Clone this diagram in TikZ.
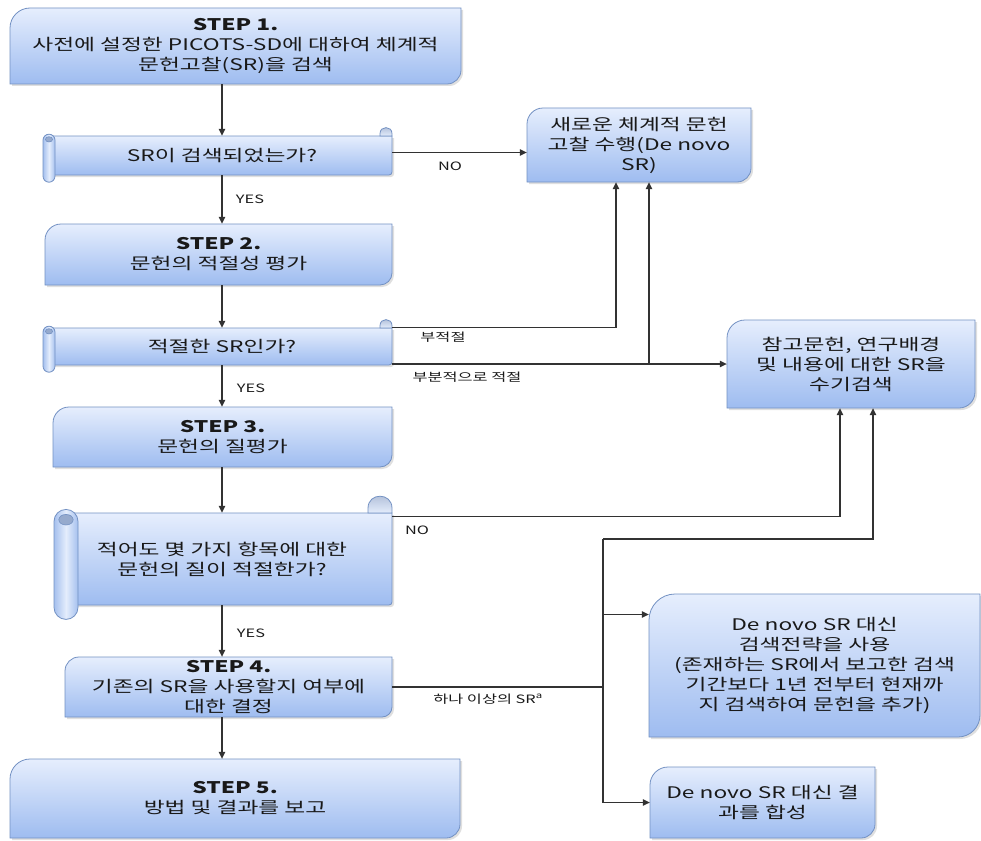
\documentclass[tikz,border=0pt]{standalone}
\usepackage{fontspec}
\setmainfont{Noto Sans CJK KR}[FakeStretch=1.42]
\usetikzlibrary{arrows.meta,shadows}

\definecolor{boxtop}{RGB}{230,238,253}
\definecolor{boxbot}{RGB}{158,188,240}
\definecolor{boxline}{RGB}{115,145,195}
\definecolor{wire}{RGB}{50,50,50}
\definecolor{inktext}{RGB}{25,25,25}
\definecolor{rollmid}{RGB}{228,237,252}
\definecolor{rollside}{RGB}{165,192,238}
\definecolor{rollhole}{RGB}{150,170,205}
\definecolor{curlfill}{RGB}{170,185,212}

\tikzset{
  boxpaint/.style={top color=boxtop, bottom color=boxbot, draw=boxline, line width=0.8pt,
    drop shadow={shadow xshift=2pt, shadow yshift=-2pt, opacity=0.25}},
  rollpaint/.style={left color=rollside, right color=rollside, middle color=rollmid,
    draw=boxline, line width=0.8pt},
  holepaint/.style={fill=rollhole, draw=boxline, line width=0.6pt},
  curlpaint/.style={top color=curlfill, bottom color=rollmid, draw=boxline, line width=0.8pt},
  boxtext/.style={font=\fontsize{16}{20}\selectfont, align=center, inner sep=0pt, text=inktext},
  lbl/.style={font=\fontsize{11.5}{13}\selectfont, inner sep=0pt, text=inktext},
  wireline/.style={draw=wire, line width=1.1pt},
  arr/.style={wireline, -{Triangle[length=7pt,width=6.5pt]}},
}

% process box: rounded top-left and bottom-right corners
% #1 name, #2 left, #3 top, #4 right, #5 bottom, #6 top-left radius, #7 bottom-right radius, #8 text
\newcommand\stepbox[8]{%
  \path[boxpaint] (#2,#3+#6) .. controls (#2,#3+0.45*#6) and (#2+0.45*#6,#3) .. (#2+#6,#3)
    -- (#4,#3) -- (#4,#5-#7) .. controls (#4,#5-0.45*#7) and (#4-0.45*#7,#5) .. (#4-#7,#5)
    -- (#2,#5) -- cycle;
  \node[boxtext, minimum width=#4-#2, minimum height=#5-#3] (#1) at ({(#2+#4)/2},{(#3+#5)/2}) {#8};
}

% scroll-shaped decision: #1 left, #2 top, #3 right, #4 bottom, #5 roll width
\newcommand\scrollpaint[5]{%
  \path[boxpaint] (#1+#5/2,#2) -- (#3,#2) -- (#3,#4-3) .. controls (#3,#4-1.3) and (#3-1.3,#4) .. (#3-3,#4)
    -- (#1+#5/2,#4) -- cycle;
  \path[curlpaint] (#3-#5,#2) -- (#3-#5,#2-0.2*#5)
    .. controls (#3-#5,#2-0.867*#5) and (#3,#2-0.867*#5) .. (#3,#2-0.2*#5) -- (#3,#2) -- cycle;
  \path[rollpaint, rounded corners=#5/2] (#1,#2-0.15*#5) rectangle (#1+#5,#4+0.6*#5);
  \path[holepaint] (#1+#5/2,#2+0.28*#5) ellipse [x radius=0.3*#5, y radius=0.22*#5];
}

\begin{document}
\begin{tikzpicture}[x=1pt,y=-1pt]
\useasboundingbox[fill=white] (0,0) rectangle (981,840);

% main column
\stepbox{s1}{10}{8}{461}{84}{20}{14}{\textbf{STEP 1.}\\사전에 설정한 PICOTS-SD에 대하여 체계적\\문헌고찰(SR)을 검색}

\scrollpaint{43}{136}{392}{175}{12}
\node[boxtext, minimum width=340, minimum height=39] (d1) at (222,155.5) {SR이 검색되었는가?};

\stepbox{s2}{45}{224}{392}{285}{16}{12}{\textbf{STEP 2.}\\문헌의 적절성 평가}

\scrollpaint{43}{328}{392}{365}{12}
\node[boxtext, minimum width=340, minimum height=37] (d2) at (222,346.5) {적절한 SR인가?};

\stepbox{s3}{53}{407}{392}{467}{16}{12}{\textbf{STEP 3.}\\문헌의 질평가}

\scrollpaint{54}{513}{392}{605}{24}
\node[boxtext, minimum width=340, minimum height=92] (d3) at (222,559) {적어도 몇 가지 항목에 대한\\문헌의 질이 적절한가?};

\stepbox{s4}{65}{657}{392}{717}{14}{10}{\textbf{STEP 4.}\\기존의 SR을 사용할지 여부에\\대한 결정}

\stepbox{s5}{10}{759}{460}{838}{20}{14}{\textbf{STEP 5.}\\방법 및 결과를 보고}

% side outcomes
\stepbox{n1}{527}{108}{751}{182}{16}{14}{새로운 체계적 문헌\\고찰 수행(De novo\\SR)}
\stepbox{r1}{727}{320}{975}{408}{18}{16}{참고문헌, 연구배경\\및 내용에 대한 SR을\\수기검색}
\stepbox{dn1}{649}{594}{980}{737}{26}{22}{De novo SR 대신\\검색전략을 사용\\(존재하는 SR에서 보고한 검색\\기간보다 1년 전부터 현재까\\지 검색하여 문헌을 추가)}
\stepbox{dn2}{650}{767}{875}{838}{18}{14}{De novo SR 대신 결\\과를 합성}

% main flow
\draw[arr] (d1.north |- s1.south) -- (d1.north);
\draw[arr] (d1.south) -- (d1.south |- s2.north);
\draw[arr] (d2.north |- s2.south) -- (d2.north);
\draw[arr] (d2.south) -- (d2.south |- s3.north);
\draw[arr] (d3.north |- s3.south) -- (d3.north);
\draw[arr] (d3.south) -- (d3.south |- s4.north);
\draw[arr] (d3.south |- s4.south) -- (d3.south |- s5.north);

% entry points on the side boxes
\coordinate (n1a) at ([xshift=-23pt]n1.south);
\coordinate (n1b) at ([xshift=10pt]n1.south);
\coordinate (r1a) at ([xshift=-11pt]r1.south);
\coordinate (r1b) at ([xshift=22pt]r1.south);
\coordinate (dn1in) at ([yshift=51pt]dn1.west);
\coordinate (jt) at (603,539);

% branches
\draw[arr] ([yshift=3pt]d1.east) -- ([yshift=3pt]d1.east -| n1.west);
\draw[arr] (d2.north east) -| (n1a);
\draw[arr] (d2.east |- r1.west) -- (r1.west);
\draw[arr] (n1b |- r1.west) -- (n1b);
\draw[arr] ([yshift=-4pt]d3.north east) -| (r1a);
\draw[wireline] (s4.east) -- (s4.east -| jt);
\draw[arr] (jt) -| (r1b);
\draw[wireline] (jt) -- (jt |- dn2.west);
\draw[arr] (jt |- dn1in) -- (dn1in);
\draw[arr] (jt |- dn2.west) -- (dn2.west);

% connector labels
\node[lbl] (y1) at (250,199) {YES};
\node[lbl] (no1) at (450,166) {NO};
\node[lbl] (l1) at (443,337) {부적절};
\node[lbl] (l2) at (467,377) {부분적으로 적절};
\node[lbl] (y2) at (251,388) {YES};
\node[lbl] (no2) at (417,530) {NO};
\node[lbl] (y3) at (251,633) {YES};
\node[lbl] (l3) at (488,699) {하나 이상의 SR\textsuperscript{a}};
\end{tikzpicture}
\end{document}
